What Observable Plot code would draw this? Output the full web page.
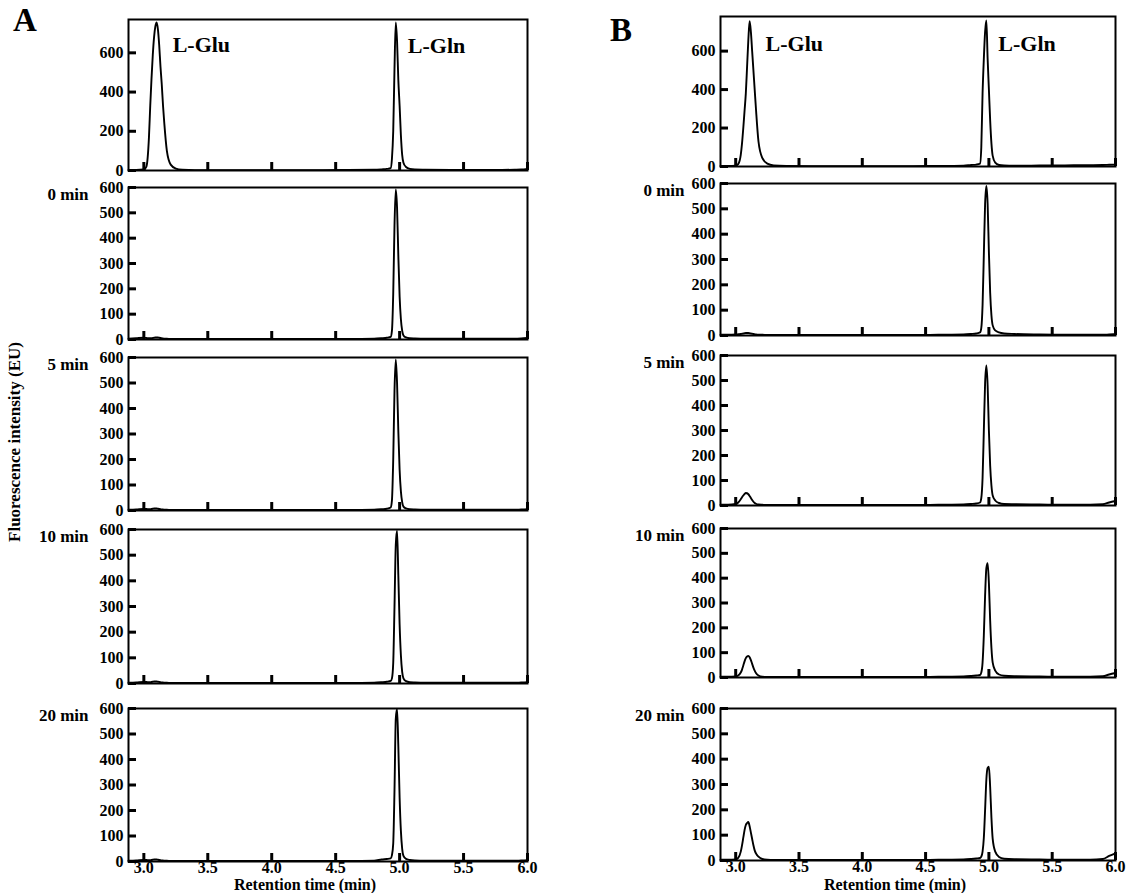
<!DOCTYPE html>
<html><head><meta charset="utf-8">
<script src="https://cdn.jsdelivr.net/npm/d3@7"></script>
<script src="https://cdn.jsdelivr.net/npm/@observablehq/plot@0.6"></script>
<style>
html,body{margin:0;padding:0;background:#fff;}
#fig{position:relative;width:1126px;height:893px;overflow:hidden;background:#fff;font-family:'Liberation Serif','Times New Roman',serif;font-weight:bold;color:#000;}
.abs{position:absolute;white-space:nowrap;line-height:1;}
#fig svg text{font-weight:bold;}
</style></head><body><div id="fig"></div>
<script>
// Retention time grid (min), shared by all traces
const times = [2.88, 2.94, 3.00, 3.02, 3.04, 3.05, 3.06, 3.07, 3.08, 3.09, 3.10, 3.11, 3.12, 3.13, 3.14, 3.15, 3.16, 3.18, 3.21, 3.25, 3.30,
  3.40, 3.60, 3.80, 4.00, 4.20, 4.40, 4.60, 4.80, 4.86, 4.90,
  4.93, 4.94, 4.95, 4.96, 4.97, 4.98, 4.99, 5.00, 5.01, 5.02, 5.03, 5.05, 5.08, 5.12,
  5.20, 5.40, 5.60, 5.80, 5.90, 5.95, 6.00];

// Panel A: standard + samples (fluorescence, EU)
const stdA = [3, 3, 5, 20, 170, 330, 470, 590, 680, 735, 755, 720, 640, 530, 440, 330, 240, 100, 30, 10, 4,
  2, 2, 2, 2, 2, 2, 3, 4, 6, 8,
  12, 60, 200, 520, 755, 660, 460, 330, 180, 80, 40, 18, 8, 5,
  4, 3, 3, 3, 4, 5, 8];
const a0 = [3, 5, 7, 6, 5, 5, 5, 6, 7, 8, 8, 8, 7, 6, 5, 4, 3, 3, 2, 2, 2,
  2, 2, 2, 2, 2, 2, 2, 3, 5, 7,
  10, 35, 180, 450, 592, 520, 330, 170, 80, 35, 16, 8, 5, 4,
  3, 3, 3, 3, 3, 4, 6];
const a5 = [3, 4, 6, 6, 5, 5, 6, 7, 8, 8, 8, 7, 6, 5, 4, 4, 3, 3, 2, 2, 2,
  2, 2, 2, 2, 2, 2, 2, 3, 5, 7,
  12, 40, 200, 470, 592, 500, 310, 160, 75, 33, 15, 8, 5, 4,
  3, 3, 3, 3, 3, 4, 5];
const a10 = [3, 4, 6, 6, 5, 5, 6, 7, 8, 8, 8, 7, 6, 5, 4, 4, 3, 3, 2, 2, 2,
  2, 2, 2, 2, 2, 2, 2, 3, 5, 7,
  10, 20, 80, 300, 540, 595, 420, 230, 110, 45, 20, 9, 5, 4,
  3, 3, 3, 3, 3, 4, 5];
const a20 = [3, 4, 6, 6, 5, 5, 6, 7, 8, 8, 8, 7, 6, 5, 4, 4, 3, 3, 2, 2, 2,
  2, 2, 2, 2, 2, 2, 2, 3, 8, 10,
  12, 25, 70, 280, 560, 598, 450, 250, 120, 50, 22, 10, 6, 4,
  3, 3, 3, 3, 3, 4, 5];

// Panel B: standard + samples
const stdB = [3, 3, 4, 12, 60, 120, 200, 290, 380, 520, 660, 755, 700, 600, 500, 400, 300, 130, 45, 15, 6,
  3, 2, 2, 2, 2, 2, 3, 4, 8, 10,
  15, 100, 380, 560, 700, 760, 560, 400, 240, 120, 55, 20, 8, 5,
  4, 5, 6, 7, 8, 9, 10];
const b0 = [3, 3, 4, 5, 6, 7, 8, 9, 10, 10, 10, 9, 8, 7, 6, 5, 4, 3, 3, 2, 2,
  2, 2, 2, 2, 2, 2, 3, 4, 6, 8,
  12, 30, 120, 320, 520, 590, 520, 330, 170, 80, 40, 20, 12, 8,
  6, 4, 3, 3, 3, 4, 5];
const b5 = [3, 3, 6, 12, 25, 33, 40, 46, 50, 49, 45, 38, 30, 22, 15, 10, 7, 4, 3, 2, 2,
  2, 2, 2, 2, 2, 2, 3, 4, 6, 8,
  12, 30, 110, 300, 490, 560, 480, 300, 160, 80, 40, 20, 10, 6,
  5, 4, 3, 3, 5, 12, 18];
const b10 = [3, 3, 4, 8, 20, 32, 48, 65, 78, 85, 87, 82, 70, 55, 40, 28, 18, 8, 3, 2, 2,
  2, 2, 2, 2, 2, 2, 3, 4, 6, 8,
  10, 20, 60, 170, 330, 440, 460, 380, 230, 120, 60, 28, 12, 7,
  5, 4, 3, 3, 5, 12, 18];
const b20 = [3, 3, 4, 10, 35, 60, 90, 120, 140, 148, 152, 135, 110, 85, 60, 40, 28, 15, 6, 3, 2,
  2, 2, 2, 2, 2, 2, 3, 4, 6, 8,
  10, 15, 35, 90, 200, 320, 365, 370, 290, 170, 85, 35, 14, 7,
  5, 4, 3, 3, 6, 18, 28];

const xTicks = [3.0, 3.5, 4.0, 4.5, 5.0, 5.5, 6.0];
const yTicksStd = [0, 200, 400, 600];
const yTicksSample = [0, 100, 200, 300, 400, 500, 600];
const panelLabels = ["", "0 min", "5 min", "10 min", "20 min"];
const peakNames = ["L-Glu", "L-Gln"];
const xTitle = "Retention time (min)";
const yTitle = "Fluorescence intensity (EU)";

const FONT = "'Liberation Serif','Times New Roman',serif";
const fig = document.getElementById("fig");

const columns = [
  {letter: "A", series: [stdA, a0, a5, a10, a20], left: 0, marginLeft: 128, frameW: 399,
   tops: [19, 187, 357, 529, 708], bottoms: [170, 339, 510, 683, 861], stdMax: 770, labelDx: -40,
   letterPos: [13, 4.4], titleX: 305},
  {letter: "B", series: [stdB, b0, b5, b10, b20], left: 580, marginLeft: 140, frameW: 395,
   tops: [16, 183, 355, 528, 708], bottoms: [166, 335, 505, 677, 860], stdMax: 780, labelDx: -36,
   letterPos: [610, 14.4], titleX: 895}
];

function addDiv(text, css) {
  const d = document.createElement("div");
  d.className = "abs";
  d.textContent = text;
  Object.assign(d.style, css);
  fig.appendChild(d);
  return d;
}

for (const col of columns) {
  col.series.forEach((vals, i) => {
    const data = times.map((t, k) => ({t, v: vals[k]}));
    const top = col.tops[i], bottom = col.bottoms[i];
    const fh = bottom - top;
    const isStd = i === 0, isLast = i === col.series.length - 1;
    const mt = 12, mb = isLast ? 26 : 14, mr = 6;
    const yTicks = isStd ? yTicksStd : yTicksSample;
    const marks = [
      Plot.line(data, {x: "t", y: "v", stroke: "black", strokeWidth: 1.9, curve: "monotone-x"}),
      Plot.tickX(xTicks, {x: d => d, insetTop: fh - 8, stroke: "black", strokeWidth: 3}),
      Plot.tickY(yTicks, {y: d => d, insetRight: col.frameW - 8, stroke: "black", strokeWidth: 3}),
      Plot.frame({stroke: "black", strokeWidth: 2}),
      Plot.axisY(yTicks, {tickSize: 0, tickPadding: 5, fontSize: 16, tickFormat: d => String(d), label: null})
    ];
    if (isLast) {
      marks.push(Plot.axisX(xTicks, {tickSize: 0, tickPadding: 0, fontSize: 16, tickFormat: d3.format(".1f"), label: null}));
    }
    if (isStd) {
      const glu = d3.greatest(data.filter(d => d.t < 4), d => d.v);
      const gln = d3.greatest(data.filter(d => d.t >= 4), d => d.v);
      marks.push(Plot.text([{...glu, name: peakNames[0]}], {x: "t", y: "v", text: "name", textAnchor: "start", lineAnchor: "middle", dx: 16, dy: 23, fontSize: 22}));
      marks.push(Plot.text([{...gln, name: peakNames[1]}], {x: "t", y: "v", text: "name", textAnchor: "start", lineAnchor: "middle", dx: 12, dy: 24, fontSize: 22}));
    } else {
      marks.push(Plot.text([panelLabels[i]], {frameAnchor: "top-left", text: d => d, dx: col.labelDx, dy: 7, textAnchor: "end", lineAnchor: "middle", fontSize: 17}));
    }
    const svg = Plot.plot({
      width: col.marginLeft + col.frameW + mr,
      height: fh + mt + mb,
      marginLeft: col.marginLeft, marginRight: mr, marginTop: mt, marginBottom: mb,
      x: {domain: [2.88, 6.0], axis: null},
      y: {domain: [0, isStd ? col.stdMax : 600], axis: null},
      style: {fontFamily: FONT, fontWeight: "bold", background: "none", overflow: "visible", color: "black", maxWidth: "none"},
      marks
    });
    svg.style.position = "absolute";
    svg.style.left = col.left + "px";
    svg.style.top = (top - mt) + "px";
    fig.appendChild(svg);
  });
  addDiv(col.letter, {left: col.letterPos[0] + "px", top: col.letterPos[1] + "px", fontSize: "33px"});
  addDiv(xTitle, {left: col.titleX + "px", top: (890 - 0.8375 * 16) + "px", fontSize: "16px", transform: "translateX(-50%)"});
}
addDiv(yTitle, {left: "14px", top: "442px", fontSize: "17px", transform: "translate(-50%,-50%) rotate(-90deg)"});
</script></body></html>
